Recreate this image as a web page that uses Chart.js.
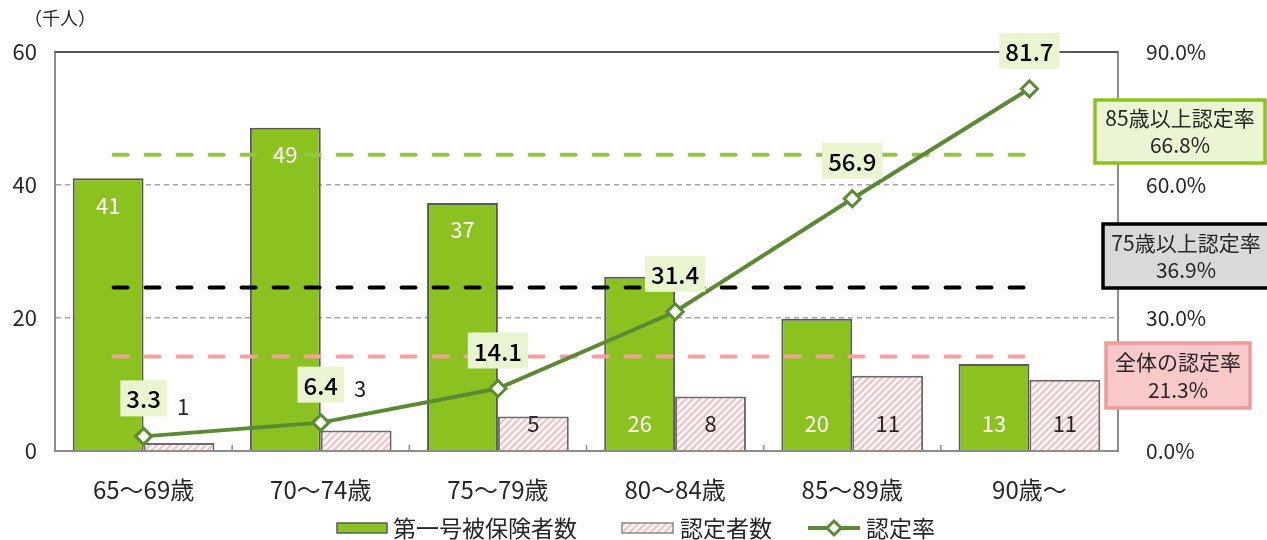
<!DOCTYPE html>
<html>
<head>
<meta charset="utf-8">
<script src="https://cdn.jsdelivr.net/npm/chart.js@4"></script>
<style>
  html, body { margin: 0; padding: 0; background: #fff; }
  #wrap { width: 1267px; height: 540px; }
</style>
</head>
<body>
<div id="wrap"><canvas id="myChart" width="1267" height="540"></canvas></div>
<script>
// data
const ageGroups = ['65～69歳', '70～74歳', '75～79歳', '80～84歳', '85～89歳', '90歳～'];
const insured = [41, 48.6, 37.3, 26.2, 19.9, 13.1];      // 第一号被保険者数 (千人)
const certified = [1.2, 3.1, 5.2, 8.2, 11.3, 10.7];      // 認定者数 (千人)
const certRate = [3.3, 6.4, 14.1, 31.4, 56.9, 81.7];     // 認定率 (%)
const refNames = ['85歳以上認定率', '75歳以上認定率', '全体の認定率'];
const refRates = [66.8, 36.9, 21.3];
const leftTicks = [0, 20, 40, 60];
const rightTicks = [0, 30, 60, 90];

const FONT = '"Noto Sans CJK JP", "Noto Sans", sans-serif';
const TEXT = '#262626';
const GREEN = '#8cc21f';
const LINE_GREEN = '#5a8a32';

// hatch for 認定者数
function makeHatch() {
    const c = document.createElement('canvas');
    c.width = 7; c.height = 7;
    const g = c.getContext('2d');
    g.fillStyle = '#fff';
    g.fillRect(0, 0, 7, 7);
    g.strokeStyle = '#f5c4c4';
    g.lineWidth = 2.5;
    g.beginPath();
    g.moveTo(-2, 9); g.lineTo(9, -2);
    g.moveTo(-2, 2); g.lineTo(2, -2);
    g.moveTo(5, 9); g.lineTo(9, 5);
    g.stroke();
    return g.createPattern(c, 'repeat');
}
const hatch = makeHatch();

const refStyles = [
    { line: '#92c83e', fill: '#eaf6d3', border: '#8cc21f', box: [1095, 100, 170, 63] },
    { line: '#000000', fill: '#d9d9d9', border: '#000000', box: [1103, 224, 166, 64] },
    { line: '#f4a0a0', fill: '#f9c8c8', border: '#f29a9a', box: [1106, 343, 144, 65] }
];

const extras = {
    id: 'extras',
    beforeDatasetDraw(chart, args) {
        if (args.index !== 2) return;
        // dashed reference lines, over the bars but under the rate line
        const { ctx, scales } = chart;
        const x0 = scales.x.getPixelForValue(0) - 30;
        const x1 = scales.x.getPixelForValue(5) + 5;
        ctx.save();
        ctx.lineWidth = 4;
        ctx.lineCap = 'round';
        ctx.setLineDash([14, 18]);
        refRates.forEach((v, i) => {
            const y = scales.y1.getPixelForValue(v);
            ctx.strokeStyle = refStyles[i].line;
            ctx.beginPath();
            ctx.moveTo(x0, y);
            ctx.lineTo(x1, y);
            ctx.stroke();
        });
        ctx.restore();
    },
    afterDatasetsDraw(chart) {
        const { ctx, chartArea: a } = chart;
        ctx.save();
        // top frame line
        ctx.strokeStyle = '#595959';
        ctx.lineWidth = 2;
        ctx.beginPath();
        ctx.moveTo(a.left, a.top);
        ctx.lineTo(a.right, a.top);
        ctx.stroke();
        // small ticks between categories
        ctx.strokeStyle = '#888';
        ctx.lineWidth = 1.5;
        const cw = (a.right - a.left) / ageGroups.length;
        for (let i = 1; i < ageGroups.length; i++) {
            const x = a.left + cw * i;
            ctx.beginPath();
            ctx.moveTo(x, a.bottom);
            ctx.lineTo(x, a.bottom - 6);
            ctx.stroke();
        }

        ctx.textAlign = 'center';
        ctx.textBaseline = 'middle';
        ctx.font = '22px ' + FONT;
        // bar labels
        const m0 = chart.getDatasetMeta(0);
        const m1 = chart.getDatasetMeta(1);
        m0.data.forEach((bar, i) => {
            ctx.fillStyle = '#fff';
            const y = i < 3 ? bar.y + 27 : a.bottom - 27;
            ctx.fillText(Math.round(insured[i]), bar.x, y);
        });
        m1.data.forEach((bar, i) => {
            ctx.fillStyle = TEXT;
            const y = i < 2 ? bar.y - 36 - i * 6 : a.bottom - 27;
            const x = i < 2 ? bar.x + 4 : bar.x;
            ctx.fillText(Math.round(certified[i]), x, y);
        });
        // rate labels
        const m2 = chart.getDatasetMeta(2);
        ctx.font = '500 24px ' + FONT;
        m2.data.forEach((pt, i) => {
            const txt = certRate[i].toFixed(1);
            const w = ctx.measureText(txt).width + 12;
            const cy = pt.y - 38;
            ctx.fillStyle = '#e8f5d0';
            ctx.fillRect(pt.x - w / 2, cy - 18, w, 36);
            ctx.fillStyle = '#000';
            ctx.fillText(txt, pt.x, cy + 1);
        });
        // side boxes
        ctx.font = '21px ' + FONT;
        refNames.forEach((name, i) => {
            const s = refStyles[i];
            const [bx, by, bw, bh] = s.box;
            ctx.fillStyle = s.fill;
            ctx.fillRect(bx, by, bw, bh);
            ctx.strokeStyle = s.border;
            ctx.lineWidth = 3.5;
            ctx.strokeRect(bx, by, bw, bh);
            ctx.fillStyle = TEXT;
            ctx.fillText(name, bx + bw / 2, by + bh * 0.29);
            ctx.fillText(refRates[i].toFixed(1) + '%', bx + bw / 2, by + bh * 0.72);
        });
        ctx.restore();
    },
    afterDraw(chart) {
        const { ctx } = chart;
        ctx.save();
        ctx.fillStyle = TEXT;
        ctx.textBaseline = 'middle';
        ctx.textAlign = 'left';
        ctx.font = '18px ' + FONT;
        ctx.fillText('（千人）', 24, 18);
        // legend
        const ly = 528;
        ctx.font = '23px ' + FONT;
        ctx.fillStyle = GREEN;
        ctx.fillRect(337, ly - 5, 50, 10);
        ctx.strokeStyle = '#595959';
        ctx.lineWidth = 1.5;
        ctx.strokeRect(337, ly - 5, 50, 10);
        ctx.fillStyle = TEXT;
        ctx.fillText('第一号被保険者数', 393, ly);
        ctx.fillStyle = hatch;
        ctx.fillRect(622, ly - 5, 51, 10);
        ctx.strokeStyle = '#8a8a8a';
        ctx.strokeRect(622, ly - 5, 51, 10);
        ctx.fillStyle = TEXT;
        ctx.fillText('認定者数', 680, ly);
        ctx.strokeStyle = LINE_GREEN;
        ctx.lineWidth = 4;
        ctx.beginPath();
        ctx.moveTo(808, ly); ctx.lineTo(860, ly);
        ctx.stroke();
        ctx.lineWidth = 3;
        ctx.fillStyle = '#fff';
        ctx.beginPath();
        ctx.moveTo(834, ly - 7); ctx.lineTo(841, ly); ctx.lineTo(834, ly + 7); ctx.lineTo(827, ly);
        ctx.closePath();
        ctx.fill(); ctx.stroke();
        ctx.fillStyle = TEXT;
        ctx.fillText('認定率', 866, ly);
        ctx.restore();
    }
};

const config = {
    type: 'bar',
    data: {
        labels: ageGroups,
        datasets: [{
            label: '第一号被保険者数',
            data: insured,
            backgroundColor: GREEN,
            borderColor: '#595959',
            borderWidth: 2,
            borderSkipped: 'bottom',
            categoryPercentage: 0.8,
            barPercentage: 1.0,
            yAxisID: 'y',
            order: 1
        }, {
            label: '認定者数',
            data: certified,
            backgroundColor: hatch,
            borderColor: '#6b6b6b',
            borderWidth: 2,
            borderSkipped: 'bottom',
            categoryPercentage: 0.8,
            barPercentage: 1.0,
            yAxisID: 'y',
            order: 1
        }, {
            type: 'line',
            label: '認定率',
            data: certRate,
            borderColor: LINE_GREEN,
            borderWidth: 4,
            pointStyle: 'rectRot',
            pointRadius: 8,
            pointBackgroundColor: '#fff',
            pointBorderColor: LINE_GREEN,
            pointBorderWidth: 3,
            tension: 0,
            yAxisID: 'y1',
            order: 0
        }]
    },
    options: {
        responsive: false,
        animation: false,
        layout: { padding: { top: 52, left: 0, right: 0, bottom: 0 } },
        plugins: {
            legend: { display: false },
            tooltip: { enabled: false }
        },
        scales: {
            x: {
                offset: true,
                grid: { display: false },
                border: { display: true, color: '#8c8c8c', width: 2 },
                ticks: { color: TEXT, font: { family: FONT, size: 24 }, padding: 16, maxRotation: 0 },
                afterFit(scale) { scale.height = 89; }
            },
            y: {
                position: 'left',
                min: 0, max: 60,
                afterBuildTicks(scale) { scale.ticks = leftTicks.map(v => ({ value: v })); },
                grid: {
                    drawTicks: false,
                    color: ctx => (ctx.tick.value === 0 || ctx.tick.value === 60) ? 'rgba(0,0,0,0)' : '#a6a6a6',
                    lineWidth: 1.5
                },
                border: { display: true, color: '#8c8c8c', width: 2, dash: [5, 4] },
                ticks: { color: TEXT, font: { family: FONT, size: 22 }, padding: 18 },
                afterFit(scale) { scale.width = 55; }
            },
            y1: {
                position: 'right',
                min: 0, max: 90,
                afterBuildTicks(scale) { scale.ticks = rightTicks.map(v => ({ value: v })); },
                grid: { display: false },
                border: { display: true, color: '#8c8c8c', width: 2 },
                ticks: {
                    color: TEXT, font: { family: FONT, size: 21 }, padding: 20,
                    callback: v => v.toFixed(1) + '%'
                },
                afterFit(scale) { scale.width = 149; }
            }
        }
    },
    plugins: [extras]
};

const ctx = document.getElementById('myChart').getContext('2d');
new Chart(ctx, config);
</script>
</body>
</html>
